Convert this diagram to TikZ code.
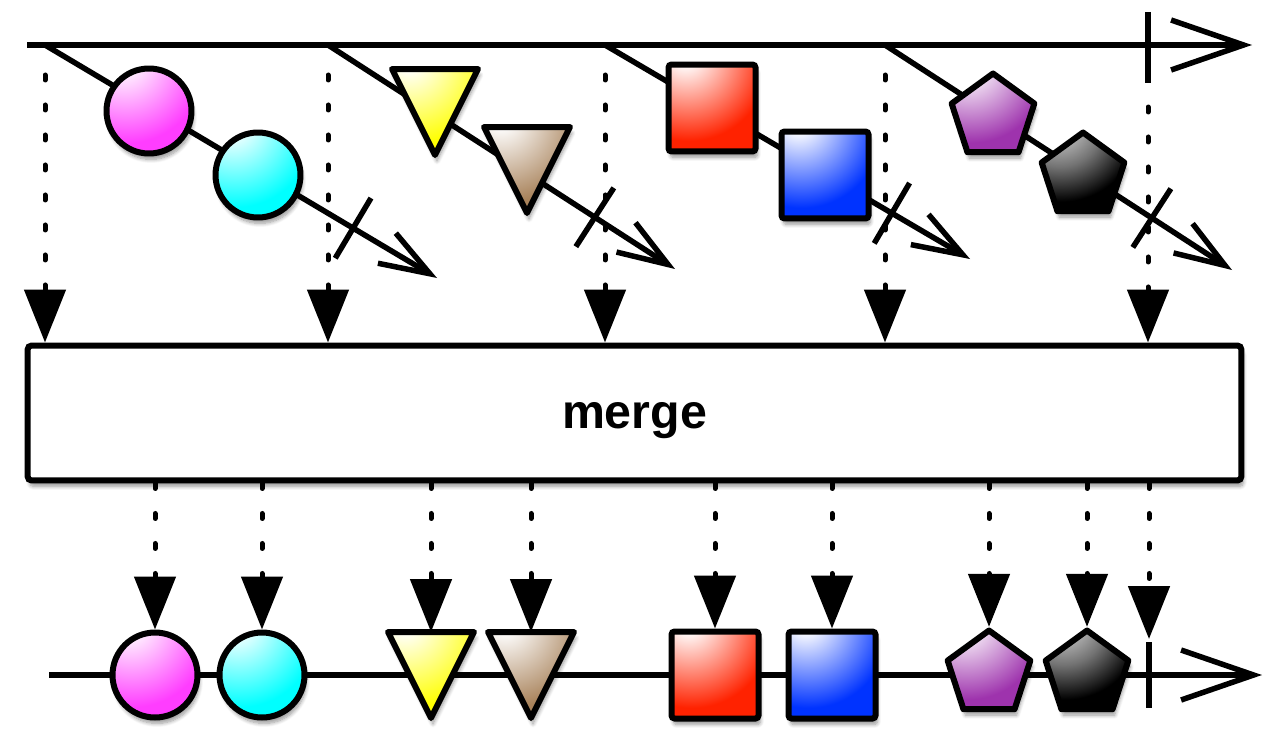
\documentclass[tikz,border=0pt]{standalone}
\usepackage{fontspec}
\setmainfont{Liberation Sans}
\usepackage{xcolor}
\usetikzlibrary{shapes.geometric,arrows.meta,calc,shadows.blur}
\definecolor{magentamid}{HTML}{FF3DFF}
\definecolor{magentaedge}{HTML}{8E1F8E}
\definecolor{cyanmid}{HTML}{00FFFF}
\definecolor{cyanedge}{HTML}{007A80}
\definecolor{yellowmid}{HTML}{FFFF00}
\definecolor{yellowedge}{HTML}{A89A00}
\definecolor{brownmid}{HTML}{A8825A}
\definecolor{brownedge}{HTML}{5E4020}
\definecolor{redmid}{HTML}{FF2200}
\definecolor{rededge}{HTML}{6E0000}
\definecolor{bluemid}{HTML}{0033FF}
\definecolor{blueedge}{HTML}{00127A}
\definecolor{purplemid}{HTML}{9E33AD}
\definecolor{purpleedge}{HTML}{581560}
% glossy fill, highlight at the upper left
\newcommand\glossy[3]{\pgfdeclareradialshading{gloss#1}{\pgfpoint{-16bp}{32bp}}{color(0bp)=(white); color(6bp)=(white); color(46bp)=(#2); color(60bp)=(#2); color(100bp)=(#3); color(300bp)=(#3)}}
\glossy{magenta}{magentamid}{magentaedge}
\glossy{cyan}{cyanmid}{cyanedge}
\glossy{yellow}{yellowmid}{yellowedge}
\glossy{brown}{brownmid}{brownedge}
\glossy{red}{redmid}{rededge}
\glossy{blue}{bluemid}{blueedge}
\glossy{purple}{purplemid}{purpleedge}
\pgfdeclareradialshading{glossblack}{\pgfpoint{-16bp}{32bp}}{color(0bp)=(white); color(4bp)=(white!85!black); color(26bp)=(black!55); color(46bp)=(black); color(300bp)=(black)}

\begin{document}
\begin{tikzpicture}[x=0.02cm,y=-0.02cm,
  line/.style={line width=0.11cm},
  stream/.style={line,-{Straight Barb[length=1.45cm,width=1.0cm]}},
  inner/.style={line,-{Straight Barb[length=1.0cm,width=0.7cm]}},
  tick/.style={line width=0.11cm},
  dots/.style={line width=0.1cm,line cap=round,dash pattern=on 0.1cm off 0.5cm,-{Triangle[length=1.06cm,width=0.82cm]}},
  soft/.style={blur shadow={shadow xshift=0.04cm,shadow yshift=-0.12cm,shadow blur steps=8,shadow opacity=40}},
  marble/.style={circle,draw,soft,line width=0.12cm,minimum size=1.7cm,inner sep=0pt,shading=gloss#1},
  block/.style={rectangle,draw,soft,line width=0.12cm,rounded corners=0.06cm,minimum size=1.74cm,inner sep=0pt,shading=gloss#1},
  wedge/.style={isosceles triangle,isosceles triangle stretches,shape border rotate=270,draw,soft,line width=0.12cm,line join=round,minimum width=1.72cm,minimum height=1.72cm,inner sep=0pt,outer sep=0pt,anchor=apex,shading=gloss#1},
  penta/.style={regular polygon,regular polygon sides=5,draw,soft,line width=0.12cm,line join=round,minimum size=1.74cm,inner sep=0pt,shading=gloss#1},
  opbox/.style={rectangle,draw,soft,line width=0.12cm,rounded corners=0.08cm,fill=white,minimum width=24.28cm,minimum height=2.7cm,text depth=0pt,font=\fontsize{27.5}{32}\selectfont\bfseries}
]
\useasboundingbox (0,0) rectangle (1280,740);

% outer stream
\coordinate (top0) at (27,45);
\coordinate (top1) at (1252,45);
\coordinate (done) at (1148,45);
\draw[stream] (top0) -- (top1);
\draw[tick] ($(done)+(0,-33)$) -- ($(done)+(0,38)$);

% inner streams
\coordinate (src1) at (45,45);   \coordinate (end1) at (437,278);
\coordinate (src2) at (328,45);  \coordinate (end2) at (675,269);
\coordinate (src3) at (605,45);  \coordinate (end3) at (970,259);
\coordinate (src4) at (885,45);  \coordinate (end4) at (1232,270);
\foreach \i/\f in {1/0.786,2/0.769,3/0.786,4/0.769}{
  \draw[inner] (src\i) -- (end\i);
  \coordinate (stop\i) at ($(src\i)!\f!(end\i)$);
  \draw[tick] ($(stop\i)!0.7cm!90:(end\i)$) -- ($(stop\i)!0.7cm!-90:(end\i)$);
}
\node[marble=magenta] (m1) at (149,111) {};
\node[marble=cyan] (c1) at (258,175) {};
\node[wedge=yellow] (y2) at (435,155) {};
\node[wedge=brown] (b2) at (527,213) {};
\node[block=red] (r3) at (712,108) {};
\node[block=blue] (u3) at (825,175) {};
\node[penta=purple] (p4) at (993,117) {};
\node[penta=black] (k4) at (1083,176) {};

% operator
\node[opbox] (merge) at (634.5,413) {\raisebox{-0.12em}{merge}};
\foreach \i in {1,...,4}
  \draw[dots] ($(src\i)+(0,30)$) -- (merge.north -| src\i);
\draw[dots] ($(done)+(0,62)$) -- (merge.north -| done);

% result stream
\coordinate (out0) at (49,675);
\coordinate (out1) at (1262,675);
\coordinate (fin) at (1149,675);
\draw[stream] (out0) -- (out1);
\draw[tick] ($(fin)+(0,-33)$) -- ($(fin)+(0,33)$);
\node[marble=magenta] (m5) at (155,675) {};
\node[marble=cyan] (c5) at (262,675) {};
\node[wedge=yellow] (y5) at (431,718) {};
\node[wedge=brown] (b5) at (531,718) {};
\node[block=red] (r5) at (715,675) {};
\node[block=blue] (u5) at (832,675) {};
\node[penta=purple] (p5) at (989,674) {};
\node[penta=black] (k5) at (1087,674) {};
\foreach \n in {m5,c5,y5,b5,r5,u5,p5,k5}
  \draw[dots] (merge.south -| \n.north) -- (\n.north);
\coordinate (finend) at ($(fin)+(0,-36)$);
\draw[dots] (merge.south -| finend) -- (finend);
\end{tikzpicture}
\end{document}
